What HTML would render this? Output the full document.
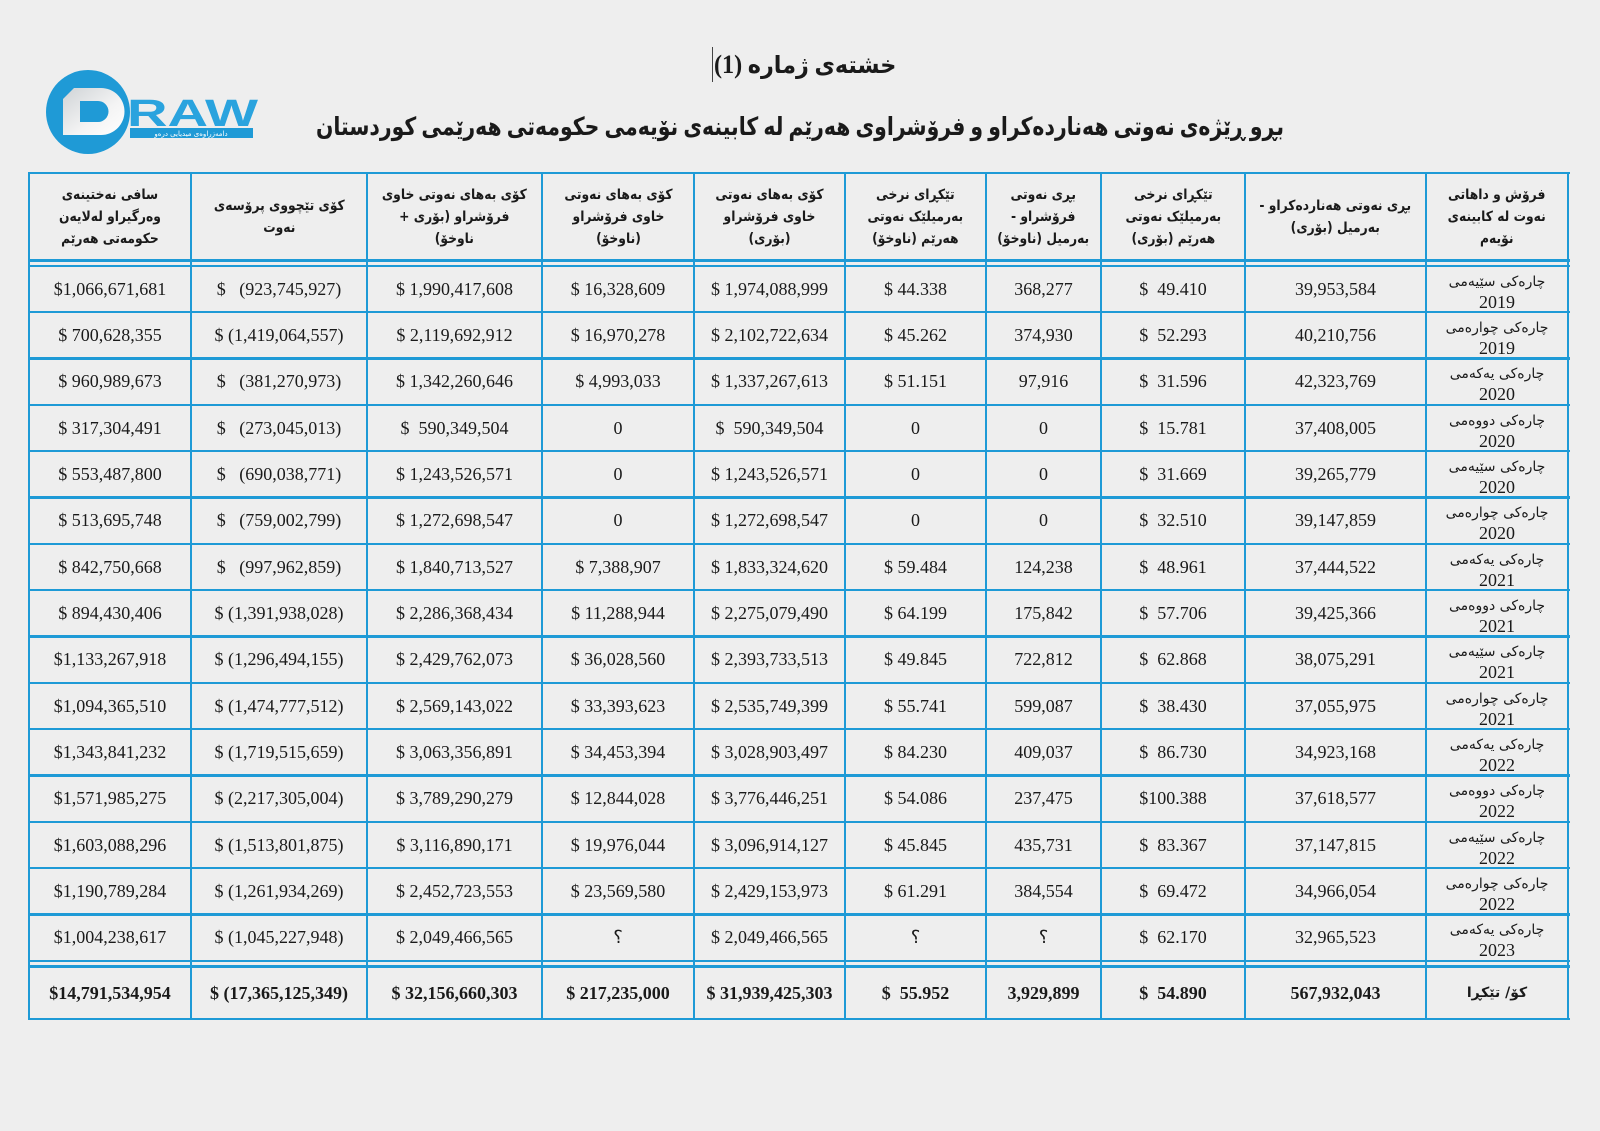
<!DOCTYPE html>
<html><head><meta charset="utf-8">
<style>
html,body{margin:0;padding:0}
body{width:1600px;height:1131px;background:#eeeeee;position:relative;overflow:hidden;font-family:"Liberation Serif","DejaVu Sans",serif;color:#1a1a1a}
.v{position:absolute;top:172px;height:848px;width:2.6px;background:#1e9ad6}
.h{position:absolute;left:28px;width:1542px;height:2.6px;background:#1e9ad6}
.r{position:absolute;left:0;width:1600px}
.r>div{position:absolute;top:0;height:100%;display:flex;align-items:center;justify-content:center;text-align:center;white-space:pre;font-size:18px}
.c0{left:29px;width:162px}.c1{left:191px;width:176px}.c2{left:367px;width:175px}.c3{left:542px;width:152px}.c4{left:694px;width:151px}
.c5{left:845px;width:141px}.c6{left:986px;width:115px}.c7{left:1101px;width:144px}.c8{left:1245px;width:181px}.c9{left:1426px;width:142px}
.hd>div{font-family:"DejaVu Sans",sans-serif;font-weight:bold;font-size:14px;line-height:22px;white-space:normal;direction:rtl}
.hd>div>span{display:inline-block;transform:scaleX(0.88);white-space:nowrap}
.q{flex-direction:column;line-height:20px;padding-top:5px;box-sizing:border-box}
.q .a{font-family:"DejaVu Sans",sans-serif;font-size:14px;direction:rtl}
.q .y{font-size:18px}
.t>div{font-weight:bold}
.t .c9{font-family:"DejaVu Sans",sans-serif;font-size:14px;direction:rtl}
.title1{position:absolute;left:714px;top:48px;font-weight:bold;font-size:24px;line-height:34px;white-space:nowrap;direction:ltr;transform:scaleX(0.93);transform-origin:0 0}
.title1 .n{font-family:"Liberation Serif",serif;font-size:26px}
.title2{position:absolute;left:0;width:1600px;top:110px;text-align:center;font-weight:bold;font-size:25px;line-height:36px;direction:rtl;transform:scaleX(0.816);transform-origin:800px 0;white-space:nowrap}
</style></head>
<body>

<svg style="position:absolute;left:0;top:0" width="300" height="170" viewBox="0 0 300 170">
<defs>
<linearGradient id="g" x1="0" y1="0" x2="1" y2="1">
<stop offset="0" stop-color="#cfd3d6"/><stop offset="0.6" stop-color="#f4f4f4"/><stop offset="1" stop-color="#ffffff"/>
</linearGradient>
</defs>
<circle cx="88" cy="112" r="42" fill="#1f9ad6"/>
<path fill-rule="evenodd" fill="url(#g)" d="M63,88 L101,88 A23.5,23.5 0 0 1 101,135 L63,135 Z M80,101 L98,101 A10.5,10.5 0 0 1 98,122 L80,122 Z"/>
<path d="M63,88 L74,88 L63,99 Z" fill="#1f9ad6"/>
<text x="127" y="126" font-family="Liberation Sans, sans-serif" font-weight="bold" font-size="38" fill="#2aa3de" textLength="131" lengthAdjust="spacingAndGlyphs">RAW</text>
<rect x="130" y="128" width="123" height="10" fill="#1f9ad6"/>
<text x="191" y="136" text-anchor="middle" font-family="DejaVu Sans, sans-serif" font-size="7" fill="#ffffff" direction="rtl">دامەزراوەی میدیایی درەو</text>
</svg>

<div style="position:absolute;left:712px;top:47px;width:1px;height:35px;background:#444"></div>
<div class="title1"><span class="n">(1)</span> <span dir="rtl">خشتەی ژمارە</span></div>
<div class="title2">بڕو ڕێژەی نەوتی هەناردەکراو و فرۆشراوی هەرێم لە کابینەی نۆیەمی حکومەتی هەرێمی کوردستان</div>

<!-- header -->
<div class="r hd" style="top:173px;height:87px">
<div class="c0"><span>سافی نەختینەی<br>وەرگیراو لەلایەن<br>حکومەتی هەرێم</span></div>
<div class="c1"><span>کۆی تێچووی پرۆسەی<br>نەوت</span></div>
<div class="c2"><span>کۆی بەهای نەوتی خاوی<br>فرۆشراو (بۆری +<br>ناوخۆ)</span></div>
<div class="c3"><span>کۆی بەهای نەوتی<br>خاوی فرۆشراو<br>(ناوخۆ)</span></div>
<div class="c4"><span>کۆی بەهای نەوتی<br>خاوی فرۆشراو<br>(بۆری)</span></div>
<div class="c5"><span>تێکڕای نرخی<br>بەرمیلێک نەوتی<br>هەرێم (ناوخۆ)</span></div>
<div class="c6"><span>بڕی نەوتی<br>فرۆشراو -<br>بەرمیل (ناوخۆ)</span></div>
<div class="c7"><span>تێکڕای نرخی<br>بەرمیلێک نەوتی<br>هەرێم (بۆری)</span></div>
<div class="c8"><span>بڕی نەوتی هەناردەکراو -<br>بەرمیل (بۆری)</span></div>
<div class="c9"><span>فرۆش و داهاتی<br>نەوت لە کابینەی<br>نۆیەم</span></div>
</div>

<div class="r" style="top:266px;height:46px"><div class="c0">$1,066,671,681</div><div class="c1">$   (923,745,927)</div><div class="c2">$ 1,990,417,608</div><div class="c3">$ 16,328,609</div><div class="c4">$ 1,974,088,999</div><div class="c5">$ 44.338</div><div class="c6">368,277</div><div class="c7">$  49.410</div><div class="c8">39,953,584</div><div class="c9 q"><span class="a">چارەکی سێیەمی</span><span class="y">2019</span></div></div>
<div class="r" style="top:312.3px;height:46px"><div class="c0">$ 700,628,355</div><div class="c1">$ (1,419,064,557)</div><div class="c2">$ 2,119,692,912</div><div class="c3">$ 16,970,278</div><div class="c4">$ 2,102,722,634</div><div class="c5">$ 45.262</div><div class="c6">374,930</div><div class="c7">$  52.293</div><div class="c8">40,210,756</div><div class="c9 q"><span class="a">چارەکی چوارەمی</span><span class="y">2019</span></div></div>
<div class="r" style="top:358.7px;height:46px"><div class="c0">$ 960,989,673</div><div class="c1">$   (381,270,973)</div><div class="c2">$ 1,342,260,646</div><div class="c3">$ 4,993,033</div><div class="c4">$ 1,337,267,613</div><div class="c5">$ 51.151</div><div class="c6">97,916</div><div class="c7">$  31.596</div><div class="c8">42,323,769</div><div class="c9 q"><span class="a">چارەکی یەکەمی</span><span class="y">2020</span></div></div>
<div class="r" style="top:405px;height:46px"><div class="c0">$ 317,304,491</div><div class="c1">$   (273,045,013)</div><div class="c2">$  590,349,504</div><div class="c3">0</div><div class="c4">$  590,349,504</div><div class="c5">0</div><div class="c6">0</div><div class="c7">$  15.781</div><div class="c8">37,408,005</div><div class="c9 q"><span class="a">چارەکی دووەمی</span><span class="y">2020</span></div></div>
<div class="r" style="top:451.3px;height:46px"><div class="c0">$ 553,487,800</div><div class="c1">$   (690,038,771)</div><div class="c2">$ 1,243,526,571</div><div class="c3">0</div><div class="c4">$ 1,243,526,571</div><div class="c5">0</div><div class="c6">0</div><div class="c7">$  31.669</div><div class="c8">39,265,779</div><div class="c9 q"><span class="a">چارەکی سێیەمی</span><span class="y">2020</span></div></div>
<div class="r" style="top:497.7px;height:46px"><div class="c0">$ 513,695,748</div><div class="c1">$   (759,002,799)</div><div class="c2">$ 1,272,698,547</div><div class="c3">0</div><div class="c4">$ 1,272,698,547</div><div class="c5">0</div><div class="c6">0</div><div class="c7">$  32.510</div><div class="c8">39,147,859</div><div class="c9 q"><span class="a">چارەکی چوارەمی</span><span class="y">2020</span></div></div>
<div class="r" style="top:544px;height:46px"><div class="c0">$ 842,750,668</div><div class="c1">$   (997,962,859)</div><div class="c2">$ 1,840,713,527</div><div class="c3">$ 7,388,907</div><div class="c4">$ 1,833,324,620</div><div class="c5">$ 59.484</div><div class="c6">124,238</div><div class="c7">$  48.961</div><div class="c8">37,444,522</div><div class="c9 q"><span class="a">چارەکی یەکەمی</span><span class="y">2021</span></div></div>
<div class="r" style="top:590.3px;height:46px"><div class="c0">$ 894,430,406</div><div class="c1">$ (1,391,938,028)</div><div class="c2">$ 2,286,368,434</div><div class="c3">$ 11,288,944</div><div class="c4">$ 2,275,079,490</div><div class="c5">$ 64.199</div><div class="c6">175,842</div><div class="c7">$  57.706</div><div class="c8">39,425,366</div><div class="c9 q"><span class="a">چارەکی دووەمی</span><span class="y">2021</span></div></div>
<div class="r" style="top:636.7px;height:46px"><div class="c0">$1,133,267,918</div><div class="c1">$ (1,296,494,155)</div><div class="c2">$ 2,429,762,073</div><div class="c3">$ 36,028,560</div><div class="c4">$ 2,393,733,513</div><div class="c5">$ 49.845</div><div class="c6">722,812</div><div class="c7">$  62.868</div><div class="c8">38,075,291</div><div class="c9 q"><span class="a">چارەکی سێیەمی</span><span class="y">2021</span></div></div>
<div class="r" style="top:683px;height:46px"><div class="c0">$1,094,365,510</div><div class="c1">$ (1,474,777,512)</div><div class="c2">$ 2,569,143,022</div><div class="c3">$ 33,393,623</div><div class="c4">$ 2,535,749,399</div><div class="c5">$ 55.741</div><div class="c6">599,087</div><div class="c7">$  38.430</div><div class="c8">37,055,975</div><div class="c9 q"><span class="a">چارەکی چوارەمی</span><span class="y">2021</span></div></div>
<div class="r" style="top:729.3px;height:46px"><div class="c0">$1,343,841,232</div><div class="c1">$ (1,719,515,659)</div><div class="c2">$ 3,063,356,891</div><div class="c3">$ 34,453,394</div><div class="c4">$ 3,028,903,497</div><div class="c5">$ 84.230</div><div class="c6">409,037</div><div class="c7">$  86.730</div><div class="c8">34,923,168</div><div class="c9 q"><span class="a">چارەکی یەکەمی</span><span class="y">2022</span></div></div>
<div class="r" style="top:775.7px;height:46px"><div class="c0">$1,571,985,275</div><div class="c1">$ (2,217,305,004)</div><div class="c2">$ 3,789,290,279</div><div class="c3">$ 12,844,028</div><div class="c4">$ 3,776,446,251</div><div class="c5">$ 54.086</div><div class="c6">237,475</div><div class="c7">$100.388</div><div class="c8">37,618,577</div><div class="c9 q"><span class="a">چارەکی دووەمی</span><span class="y">2022</span></div></div>
<div class="r" style="top:822px;height:46px"><div class="c0">$1,603,088,296</div><div class="c1">$ (1,513,801,875)</div><div class="c2">$ 3,116,890,171</div><div class="c3">$ 19,976,044</div><div class="c4">$ 3,096,914,127</div><div class="c5">$ 45.845</div><div class="c6">435,731</div><div class="c7">$  83.367</div><div class="c8">37,147,815</div><div class="c9 q"><span class="a">چارەکی سێیەمی</span><span class="y">2022</span></div></div>
<div class="r" style="top:868.3px;height:46px"><div class="c0">$1,190,789,284</div><div class="c1">$ (1,261,934,269)</div><div class="c2">$ 2,452,723,553</div><div class="c3">$ 23,569,580</div><div class="c4">$ 2,429,153,973</div><div class="c5">$ 61.291</div><div class="c6">384,554</div><div class="c7">$  69.472</div><div class="c8">34,966,054</div><div class="c9 q"><span class="a">چارەکی چوارەمی</span><span class="y">2022</span></div></div>
<div class="r" style="top:914.7px;height:46px"><div class="c0">$1,004,238,617</div><div class="c1">$ (1,045,227,948)</div><div class="c2">$ 2,049,466,565</div><div class="c3">؟</div><div class="c4">$ 2,049,466,565</div><div class="c5">؟</div><div class="c6">؟</div><div class="c7">$  62.170</div><div class="c8">32,965,523</div><div class="c9 q"><span class="a">چارەکی یەکەمی</span><span class="y">2023</span></div></div>

<div class="r t" style="top:967px;height:52px"><div class="c0">$14,791,534,954</div><div class="c1">$ (17,365,125,349)</div><div class="c2">$ 32,156,660,303</div><div class="c3">$ 217,235,000</div><div class="c4">$ 31,939,425,303</div><div class="c5">$  55.952</div><div class="c6">3,929,899</div><div class="c7">$  54.890</div><div class="c8">567,932,043</div><div class="c9">کۆ/ تێکڕا</div></div>

<!-- horizontal lines -->
<div class="h" style="top:171.7px"></div>
<div class="h" style="top:259.3px"></div>
<div class="h" style="top:264.5px"></div>
<div class="h" style="top:310.9px"></div>
<div class="h" style="top:357.2px"></div>
<div class="h" style="top:403.5px"></div>
<div class="h" style="top:449.9px"></div>
<div class="h" style="top:496.2px"></div>
<div class="h" style="top:542.5px"></div>
<div class="h" style="top:588.9px"></div>
<div class="h" style="top:635.2px"></div>
<div class="h" style="top:681.5px"></div>
<div class="h" style="top:727.9px"></div>
<div class="h" style="top:774.2px"></div>
<div class="h" style="top:820.5px"></div>
<div class="h" style="top:866.9px"></div>
<div class="h" style="top:913.2px"></div>
<div class="h" style="top:959.6px"></div>
<div class="h" style="top:965px"></div>
<div class="h" style="top:1017.7px"></div>

<!-- vertical lines -->
<div class="v" style="left:27.7px"></div>
<div class="v" style="left:189.7px"></div>
<div class="v" style="left:365.7px"></div>
<div class="v" style="left:540.7px"></div>
<div class="v" style="left:692.7px"></div>
<div class="v" style="left:843.7px"></div>
<div class="v" style="left:984.7px"></div>
<div class="v" style="left:1099.7px"></div>
<div class="v" style="left:1243.7px"></div>
<div class="v" style="left:1424.7px"></div>
<div class="v" style="left:1566.7px"></div>

</body></html>
